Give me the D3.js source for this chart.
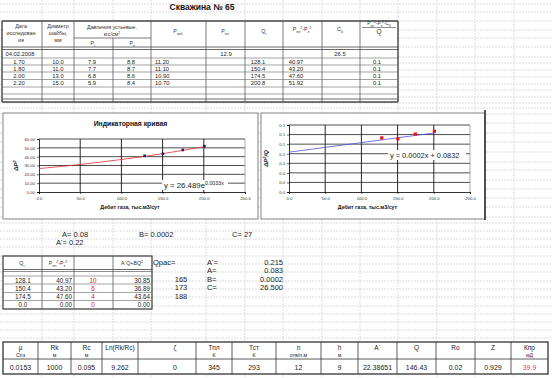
<!DOCTYPE html>
<html>
<head>
<meta charset="utf-8">
<script src="https://cdn.jsdelivr.net/npm/d3@7"></script>
<style>
  body { margin: 0; background: #fff; }
  svg { display: block; font-family: "Liberation Sans", Arial, sans-serif; }
</style>
</head>
<body>
<script>
// ---- data ----
const wellTitle = "Скважина № 65";
const testDate = "04.02.2008";
const pPl = "12.9";
const c0 = "26.5";

const regime = ["1.70", "1.80", "2.00", "2.20"];
const choke = [10.0, 11.0, 13.0, 15.0];
const pG = [7.9, 7.7, 6.8, 5.9];
const pZ = [8.8, 8.7, 8.6, 8.4];
const pZab = [11.2, 11.1, 10.9, 10.7];
const qG = [128.1, 150.4, 174.5, 200.8];
const dP2 = [40.97, 43.2, 47.6, 51.92];
const ratioShown = [0.1, 0.1, 0.1, 0.1];

// chart 2 points ((Pпл²-Pз²-C0)/Q)
const dP2Q = [0.113, 0.111, 0.121, 0.127];

// trend lines as drawn
const trend1Q = [0, 50, 100, 150, 200.8];
const trend1V = [26.5, 31.2, 36.8, 43.4, 51.4];
const trend2Q = [0, 200.8];
const trend2V = [0.0832, 0.1234];

const xTicks = [0, 50, 100, 150, 200, 250];
const y1Ticks = [0, 10, 20, 30, 40, 50, 60];
const y2Ticks = [0, 0.02, 0.04, 0.06, 0.08, 0.1, 0.12, 0.14];

// table under the charts
const t2Q = [128.1, 150.4, 174.5, 0.0];
const t2dP = [40.97, 43.2, 47.6, 0.0];
const t2Red = [10, 6, 4, 0];
const t2Fit = [30.85, 36.89, 43.64, 0.0];
const qRas = [165, 173, 188];
const coefNames = ["A'=", "A=", "B=", "C="];
const coefVals = ["0.215", "0.083", "0.0002", "26.500"];

// bottom table
const botHead1 = ["μ", "Rk", "Rc", "Ln(Rk/Rc)", "ζ", "Тпл", "Тст", "n", "h", "A`", "Q", "Ro", "Z", "Кпр"];
const botHead2 = ["Спз", "м", "м", "", "", "К", "К", "отв/п.м", "м", "", "", "", "", "мД"];
const botVals = ["0.0153", "1000", "0.095", "9.262", "0", "345", "293", "12", "9", "22.38651", "146.43", "0.02", "0.929", "39.9"];

// ---- sheet layout ----
const W = 552, H = 378;
const gridCols = [42, 74, 113, 151, 206, 245, 283, 322, 360, 398, 437, 475, 514];
const gridRows = [4, 12, 21, 30, 38, 47, 57, 63, 70, 77, 84, 90, 97, 103, 108, 114, 123, 133, 142, 152, 162,
  170, 180, 189, 198, 207, 217, 223, 231, 239, 247, 256, 264, 272, 281, 289, 297, 306, 314, 322, 330, 338];

const svg = d3.select("body").append("svg").attr("width", W).attr("height", H);
svg.append("rect").attr("width", W).attr("height", H).attr("fill", "#fff");

// spreadsheet gridlines
const grid = svg.append("g").attr("stroke", "#cfcfcf").attr("stroke-width", 0.7).attr("stroke-dasharray", "2,1");
grid.selectAll("line.v").data(gridCols).join("line").attr("class", "v")
  .attr("x1", d => d).attr("x2", d => d).attr("y1", 0).attr("y2", H);
grid.selectAll("line.h").data(gridRows).join("line").attr("class", "h")
  .attr("x1", 0).attr("x2", W).attr("y1", d => d).attr("y2", d => d);

// text with _{sub} and ^{sup}
function rich(g, x, y, str, o) {
  const size = o.size || 6;
  const t = g.append("text").attr("x", x).attr("y", y)
    .attr("text-anchor", o.anchor || "middle")
    .attr("font-size", size)
    .attr("font-weight", o.weight || null)
    .attr("font-style", o.style || null)
    .attr("fill", o.fill || "#222");
  const re = /([_^])\{([^}]*)\}|([^_^]+)/g;
  let m;
  while ((m = re.exec(str))) {
    if (m[3]) t.append("tspan").text(m[3]);
    else t.append("tspan")
      .attr("baseline-shift", m[1] === "_" ? "sub" : "super")
      .attr("font-size", size * 0.68).text(m[2]);
  }
  return t;
}
function hline(g, x1, x2, y, w, c) {
  g.append("line").attr("x1", x1).attr("x2", x2).attr("y1", y).attr("y2", y)
    .attr("stroke", c || "#444").attr("stroke-width", w || 0.7);
}
function vline(g, x, y1, y2, w, c) {
  g.append("line").attr("x1", x).attr("x2", x).attr("y1", y1).attr("y2", y2)
    .attr("stroke", c || "#444").attr("stroke-width", w || 0.7);
}

rich(svg, 202, 10, wellTitle, { size: 8.5, weight: "bold", fill: "#111" });

// ---- table 1 ----
const t1 = svg.append("g");
t1.append("rect").attr("x", 2).attr("y", 21).attr("width", 396).attr("height", 81).attr("fill", "#fff");
const t1Cols = [2, 42, 74, 113, 151, 206, 245, 283, 322, 360, 398];
t1Cols.forEach((x, i) => {
  if (x === 113) vline(t1, x, 38, 102);
  else vline(t1, x, 21, 102, (i === 0 || i === t1Cols.length - 1) ? 1.4 : 0.7);
});
hline(t1, 2, 398, 21, 1.4);
hline(t1, 74, 151, 38);
hline(t1, 2, 398, 47, 0.8);
hline(t1, 2, 398, 49.5, 0.8);
[58, 65, 72, 79.5, 87, 94].forEach(y => hline(t1, 2, 398, y, 0.6, "#666"));
hline(t1, 2, 398, 99, 0.8);
hline(t1, 2, 398, 102, 1.4);

const hs = { size: 5.3, fill: "#333" };
["Дата", "исследован", "ия"].forEach((s, i) => rich(t1, 21, 28 + i * 7, s, hs));
["Диаметр", "шайбы,", "мм"].forEach((s, i) => rich(t1, 58, 28 + i * 7, s, hs));
rich(t1, 112, 29, "Давления устьевые,", hs);
rich(t1, 112, 36, "кгс/см^{2}", hs);
rich(t1, 93, 45, "Р_{г}", hs);
rich(t1, 132, 45, "Р_{з}", hs);
rich(t1, 178, 33, "Р_{заб}", hs);
rich(t1, 225, 33, "Р_{пл}", hs);
rich(t1, 264, 33, "Q_{г}", hs);
rich(t1, 302, 31, "Р_{пл}^{2}-Р_{з}^{2}", hs);
rich(t1, 340, 31, "С_{0}", hs);
rich(t1, 379, 25, "Р_{пл}^{2}-Р_{з}^{2}-С_{0}", { size: 4.8, fill: "#333" });
hline(t1, 362, 396, 27.5, 0.6);
rich(t1, 379, 34, "Q", { size: 6.5, fill: "#333" });

const ds = { size: 5.8, fill: "#222" };
rich(t1, 20, 56, testDate, ds);
rich(t1, 226, 56, pPl, ds);
rich(t1, 340, 56, c0, ds);
const rowY = [63.5, 70.5, 77.5, 85];
regime.forEach((r, i) => {
  const y = rowY[i];
  rich(t1, 19, y, r, ds);
  rich(t1, 58, y, choke[i].toFixed(1), ds);
  rich(t1, 92, y, pG[i].toFixed(1), ds);
  rich(t1, 131, y, pZ[i].toFixed(1), ds);
  rich(t1, 155, y, pZab[i].toFixed(2), Object.assign({ anchor: "start" }, ds));
  rich(t1, 258, y, qG[i].toFixed(1), ds);
  rich(t1, 296, y, dP2[i].toFixed(2), ds);
  rich(t1, 377, y, ratioShown[i].toFixed(1), ds);
});

// ---- charts ----
function styleAxis(a) {
  a.select(".domain").attr("stroke", "#000").attr("stroke-width", 0.8);
  a.selectAll(".tick line").attr("stroke", "#000").attr("stroke-width", 0.6);
  a.selectAll(".tick text").attr("font-size", 4.2).attr("fill", "#333")
    .attr("font-family", "Liberation Sans, Arial, sans-serif");
}

function chart(c) {
  const g = svg.append("g");
  const [fx0, fy0, fx1, fy1] = c.frame;
  g.append("rect").attr("x", fx0).attr("y", fy0).attr("width", fx1 - fx0).attr("height", fy1 - fy0)
    .attr("fill", "#fff").attr("stroke", "#777").attr("stroke-width", 0.9);
  const [px0, py0, px1, py1] = c.plot;
  const x = d3.scaleLinear().domain([0, 250]).range([px0, px1]);
  const y = d3.scaleLinear().domain([c.yTicks[0], c.yTicks[c.yTicks.length - 1]]).range([py1, py0]);

  g.append("g").selectAll("line").data(c.yTicks.slice(1)).join("line")
    .attr("x1", px0).attr("x2", px1).attr("y1", d => y(d)).attr("y2", d => y(d))
    .attr("stroke", "#222").attr("stroke-width", 0.8);
  g.append("g").selectAll("line").data(xTicks.slice(1, -1)).join("line")
    .attr("x1", d => x(d)).attr("x2", d => x(d)).attr("y1", py0).attr("y2", py1)
    .attr("stroke", "#111").attr("stroke-width", 0.9);
  vline(g, px1, py0, py1, 0.7, "#888");

  g.append("g").attr("transform", `translate(0,${py1})`)
    .call(d3.axisBottom(x).tickValues(xTicks).tickFormat(d3.format(".1f")).tickSize(2).tickPadding(3))
    .call(styleAxis);
  g.append("g").attr("transform", `translate(${px0},0)`)
    .call(d3.axisLeft(y).tickValues(c.yTicks).tickFormat(c.yFmt).tickSize(2).tickPadding(2))
    .call(styleAxis);

  const line = d3.line().x(d => x(d[0])).y(d => y(d[1])).curve(d3.curveMonotoneX);
  g.append("path").datum(c.trendQ.map((q, i) => [q, c.trendV[i]]))
    .attr("d", line).attr("fill", "none").attr("stroke", c.trendColor).attr("stroke-width", 0.8);

  g.append("g").selectAll("rect").data(qG.map((q, i) => [q, c.values[i]])).join("rect")
    .attr("x", d => x(d[0]) - c.mark / 2).attr("y", d => y(d[1]) - c.mark / 2)
    .attr("width", c.mark).attr("height", c.mark).attr("fill", c.markColor);

  // equation label
  const [ex, ey, ew] = c.eqBox;
  g.append("rect").attr("x", ex).attr("y", ey - 8).attr("width", ew).attr("height", 10).attr("fill", "#fff");
  rich(g, ex + 2, ey, c.eq, { size: c.eqSize, anchor: "start", fill: "#222" });

  if (c.title) rich(g, (fx0 + fx1) / 2, fy0 + 13, c.title, { size: 6.8, weight: "bold", fill: "#111" });
  rich(g, (px0 + px1) / 2 - 12, fy1 - 10, "Дебит газа, тыс.м3/сут", { size: 5.3, weight: "bold", fill: "#111" });
  rich(g, 0, 0, c.yLabel, { size: 6, weight: "bold", style: "italic", fill: "#111" })
    .attr("transform", `translate(${c.yLabelX},${(py0 + py1) / 2}) rotate(-90)`);
  return g;
}

chart({
  frame: [3, 113, 258, 219],
  plot: [39, 139, 245, 192],
  yTicks: y1Ticks,
  yFmt: d3.format(".2f"),
  values: dP2,
  trendQ: trend1Q, trendV: trend1V,
  trendColor: "#e03030",
  mark: 2.6, markColor: "#1c1c7a",
  eqBox: [162, 188, 66],
  eqSize: 7.8,
  eq: "y = 26.489e^{0.0033x}",
  title: "Индикаторная кривая",
  yLabel: "ΔP^{2}", yLabelX: 18
});

const c2 = chart({
  frame: [261, 113, 485, 219],
  plot: [289, 125, 470, 192],
  yTicks: y2Ticks,
  yFmt: d3.format(".1f"),
  values: dP2Q,
  trendQ: trend2Q, trendV: trend2V,
  trendColor: "#5050e0",
  mark: 3.2, markColor: "#ee1111",
  eqBox: [388, 158, 78],
  eqSize: 7.4,
  eq: "y = 0.0002x + 0.0832",
  title: null,
  yLabel: "ΔP^{2}/Q", yLabelX: 268
});
vline(c2, 485, 110, 220, 1.6, "#333");

// ---- coefficients line ----
const big = { size: 7.5, anchor: "start", fill: "#222" };
rich(svg, 62, 237, "A= 0.08", big);
rich(svg, 56, 245, "A'= 0.22", big);
rich(svg, 139, 237, "B= 0.0002", big);
rich(svg, 232, 237, "C= 27", big);

// ---- table 2 ----
const t2 = svg.append("g");
t2.append("rect").attr("x", 3).attr("y", 256).attr("width", 149).attr("height", 53)
  .attr("fill", "#fff").attr("stroke", "#444").attr("stroke-width", 1.3);
[42, 74, 113].forEach(x => vline(t2, x, 256, 309, 0.7));
hline(t2, 3, 152, 269.5, 0.8);
hline(t2, 3, 152, 271.5, 0.6);
[276, 284, 292.5, 300.5].forEach(y => hline(t2, 3, 152, y, 0.6, "#666"));
rich(t2, 22, 265, "Q_{г}", { size: 5.3, fill: "#333" });
rich(t2, 58, 265, "Р_{пл}^{2}-Р_{з}^{2}", { size: 5.3, fill: "#333" });
rich(t2, 132, 265, "A`Q+BQ^{2}", { size: 5.3, fill: "#333" });
const r2Y = [282.5, 290.5, 298.5, 306.5];
const ts = { size: 6.3, fill: "#222" };
t2Q.forEach((q, i) => {
  const y = r2Y[i];
  rich(t2, 23, y, q.toFixed(1), ts);
  rich(t2, 72, y, t2dP[i].toFixed(2), Object.assign({}, ts, { anchor: "end" }));
  rich(t2, 93, y, String(t2Red[i]), Object.assign({}, ts, { fill: "#e01010" }));
  rich(t2, 150, y, t2Fit[i].toFixed(2), Object.assign({}, ts, { anchor: "end" }));
});

rich(svg, 153, 265, "Qрас=", { size: 7.5, anchor: "start", fill: "#222" });
qRas.forEach((q, i) => rich(svg, 181, 282 + i * 8.3, String(q), { size: 7.5, fill: "#222" }));
coefNames.forEach((n, i) => {
  rich(svg, 207, 265 + i * 8.3, n, { size: 7.5, anchor: "start", fill: "#222" });
  rich(svg, 283, 265 + i * 8.3, coefVals[i], { size: 7.5, anchor: "end", fill: "#222" });
});

// ---- bottom table ----
const bt = svg.append("g");
const botCols = [3, 38, 71, 102, 138, 196, 232, 276, 321, 358, 397, 436, 475, 511, 548];
bt.append("rect").attr("x", 3).attr("y", 342).attr("width", 545).attr("height", 32)
  .attr("fill", "#fff").attr("stroke", "#333").attr("stroke-width", 1.3);
botCols.slice(1, -1).forEach(x => vline(bt, x, 342, 374, 0.8, "#333"));
hline(bt, 3, 548, 359, 0.8, "#333");
botHead1.forEach((h, i) => {
  const cx = (botCols[i] + botCols[i + 1]) / 2 + (i === 4 ? 8 : 0);
  rich(bt, cx, 350, h, { size: 6.5, fill: "#222" });
  if (botHead2[i]) rich(bt, cx, 357, botHead2[i], { size: 5.3, fill: i === 13 ? "#602060" : "#222" });
  rich(bt, cx, 369.5, botVals[i], { size: 7, fill: i === 13 ? "#f04050" : "#222" });
});
</script>
</body>
</html>
